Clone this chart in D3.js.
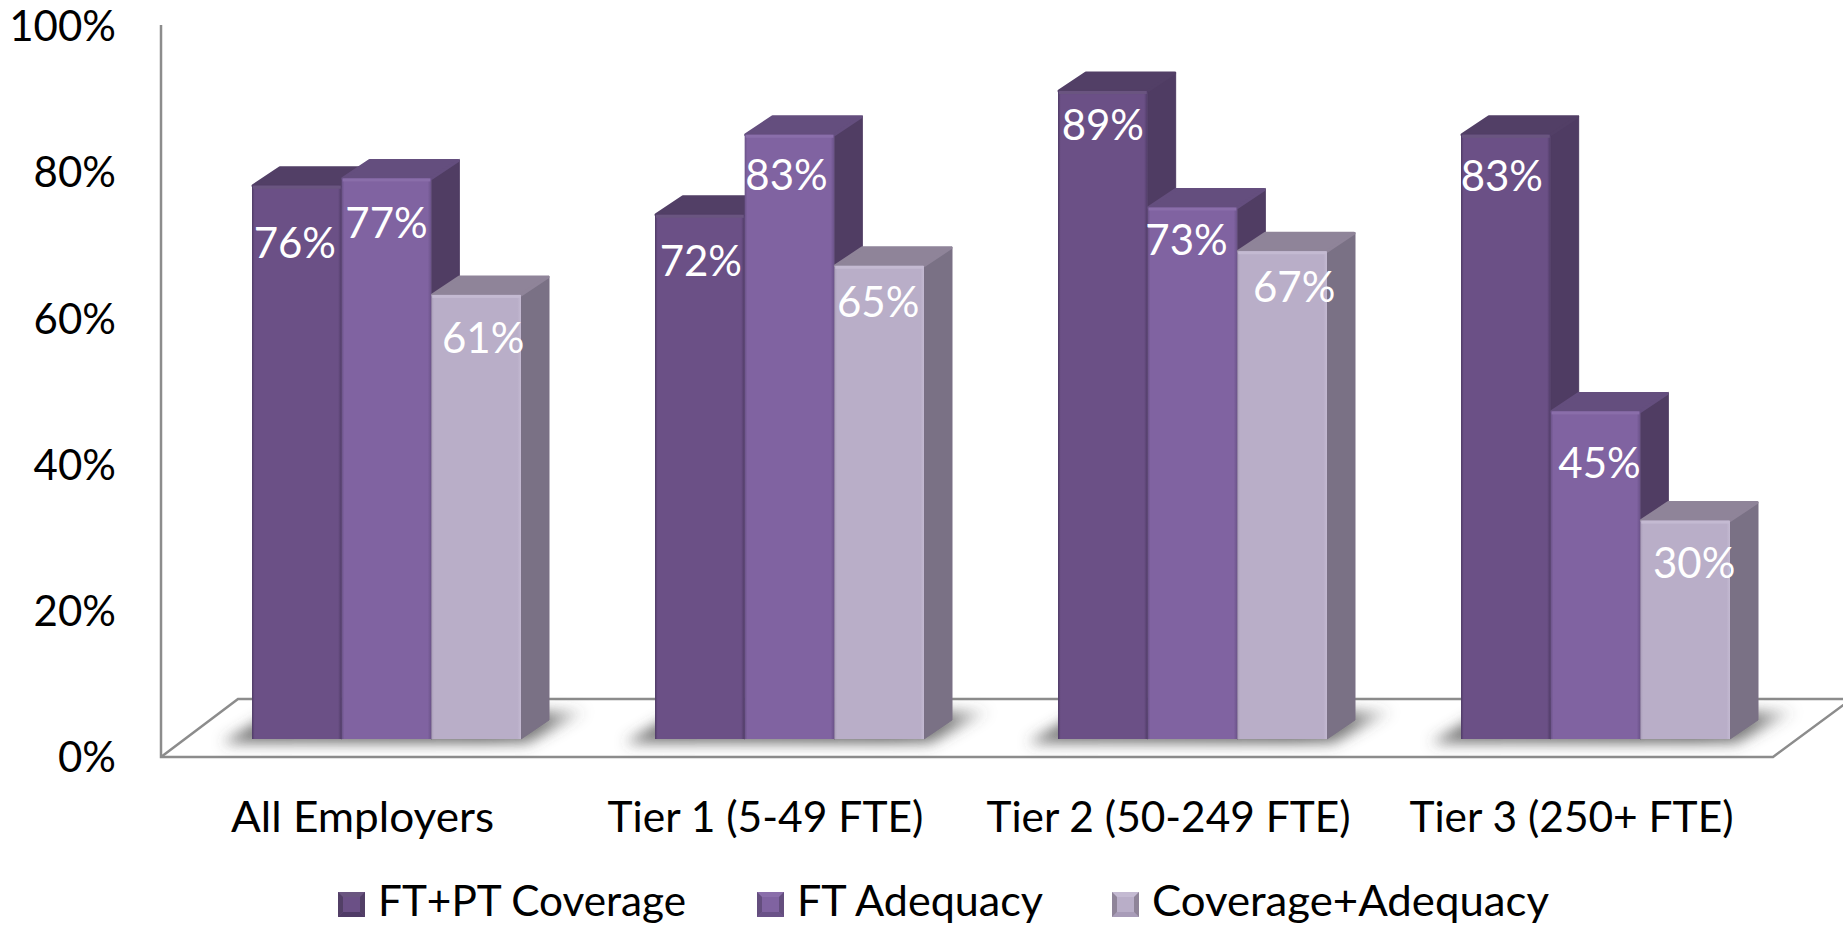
<!DOCTYPE html>
<html>
<head>
<meta charset="utf-8">
<script src="https://cdn.jsdelivr.net/npm/d3@7"></script>
<style>
  html, body { margin: 0; padding: 0; background: #fff; }
  svg { display: block; }
  text { font-family: Lato, "Open Sans", sans-serif; }
</style>
</head>
<body>
<svg id="chart" width="1843" height="926"></svg>
<script>
// Values
const categories = ["All Employers", "Tier 1 (5-49 FTE)", "Tier 2 (50-249 FTE)", "Tier 3 (250+ FTE)"];
const seriesNames = ["FT+PT Coverage", "FT Adequacy", "Coverage+Adequacy"];
const coverage = [76, 72, 89, 83];
const adequacy = [77, 83, 73, 45];
const combined = [61, 65, 67, 30];
const tickValues = [0, 20, 40, 60, 80, 100];

// Series palette: front, top and side faces of each extruded bar
const palette = [
  { front: "#6b5086", edge: "#4f3b66", top: "#523f66", side: "#4f3c63", shine: "#6a5580" },
  { front: "#8063a1", edge: "#6a5288", top: "#644e7e", side: "#503d63", shine: "#8a6eaa" },
  { front: "#b9aec8", edge: "#a89cb8", top: "#8f8499", side: "#7a7185", shine: "#c4bad2" }
];

// Hand placement of the value labels relative to each bar: [dx, dy from the top]
const labelPlacement = [
  [[-2, 57], [0, 44], [7, 43]],
  [[1, 46], [-3, 40], [-1, 36]],
  [[0, 34], [-6, 32], [12, 36]],
  [[-4, 41], [4, 51], [9, 42]]
];

// Set widths for the longer strings, in pixels
const categoryTextWidth = [263, 316, 364, 324];
const legendTextWidth = [308, 246, 397];

const seriesValues = [coverage, adequacy, combined];
const depthX = 28, depthY = 19, floorLift = 18, barShift = 24;
const floorLeft = 161, floorRight = 1773, floorY = 757;
const backX = 77, backY = 58;

const svg = d3.select("#chart");
const defs = svg.append("defs");

// The axis sits on the floor's front edge; bars stand further back and read slightly shorter
const y = d3.scaleLinear().domain([0, 100]).range([floorY, 26]);
const barY = d3.scaleLinear().domain([0, 100]).range([floorY - floorLift, floorY - floorLift - 728]);
const x0 = d3.scaleBand().domain(categories).range([floorLeft, floorRight]);
const x1 = d3.scaleBand().domain(seriesNames).range([0, 269]);

const blur = defs.append("filter").attr("id", "soft").attr("x", "-20%").attr("y", "-60%")
  .attr("width", "140%").attr("height", "220%");
blur.append("feGaussianBlur").attr("stdDeviation", 7);

// The shadow fades out toward its far right end
const shade = defs.append("linearGradient").attr("id", "shade");
shade.selectAll("stop")
  .data([[0, 0.75], [0.72, 0.85], [0.88, 0.7], [1, 0.1]])
  .join("stop")
  .attr("offset", d => d[0])
  .attr("stop-color", "#4a4a4a")
  .attr("stop-opacity", d => d[1]);

palette.forEach((c, i) => {
  const g = defs.append("linearGradient").attr("id", "front" + i);
  g.selectAll("stop")
    .data([[0, c.edge], [0.03, c.front], [0.96, c.front], [1, i === 2 ? c.shine : c.edge]])
    .join("stop")
    .attr("offset", d => d[0])
    .attr("stop-color", d => d[1]);
});

// Floor of the 3D plot and the vertical wall line
const wallColor = "#8c8c8c";
const line = d3.line();
svg.append("path")
  .attr("d", line([[floorLeft, 25], [floorLeft, floorY], [floorRight, floorY], [floorRight + backX, floorY - backY + 1]]))
  .attr("fill", "none").attr("stroke", wallColor).attr("stroke-width", 2.5);
svg.append("path")
  .attr("d", line([[floorLeft, floorY], [floorLeft + backX, floorY - backY], [1843, floorY - backY]]))
  .attr("fill", "none").attr("stroke", wallColor).attr("stroke-width", 2.5);

// Axis labels
svg.append("g").selectAll("text").data(tickValues).join("text")
  .attr("x", 116).attr("y", d => y(d)).attr("dy", "0.36em")
  .attr("text-anchor", "end").attr("font-size", 42).attr("fill", "#000")
  .text(d => d + "%");

svg.append("g").selectAll("text").data(categories).join("text")
  .attr("x", d => x0(d) + x0.bandwidth() / 2).attr("y", 832)
  .attr("text-anchor", "middle").attr("font-size", 43).attr("fill", "#000")
  .attr("textLength", (d, i) => categoryTextWidth[i])
  .attr("lengthAdjust", "spacingAndGlyphs")
  .text(d => d);

const groups = svg.append("g").selectAll("g").data(categories).join("g")
  .attr("transform", d => `translate(${x0(d) + x0.bandwidth() / 2 - x1.range()[1] / 2 + barShift},0)`);

// Blurred floor shadow under each cluster
groups.append("path")
  .attr("d", () => {
    const w = x1.range()[1], b = barY(0) + 4, t = b - 32;
    return line([[-30, b], [w + 6, b], [w + 66, t], [24, t]]) + "Z";
  })
  .attr("fill", "url(#shade)").attr("filter", "url(#soft)");

// Extruded bars, drawn left to right so nearer faces overlap
groups.each(function (cat, ci) {
  const g = d3.select(this);
  seriesNames.forEach((name, si) => {
    const v = seriesValues[si][ci];
    const c = palette[si];
    const l = x1(name), r = l + x1.bandwidth();
    const t = barY(v), b = barY(0);
    const bar = g.append("g");
    bar.append("path").attr("fill", c.side)
      .attr("stroke", c.side).attr("stroke-width", 1).attr("stroke-linejoin", "round")
      .attr("d", line([[r, t], [r + depthX, t - depthY], [r + depthX, b - depthY], [r, b]]) + "Z");
    bar.append("path").attr("fill", c.top)
      .attr("stroke", c.top).attr("stroke-width", 3).attr("stroke-linejoin", "round")
      .attr("d", line([[l + 1, t], [l + depthX, t - depthY + 1], [r + depthX - 1, t - depthY + 1], [r, t]]) + "Z");
    bar.append("rect").attr("x", l).attr("y", t).attr("width", x1.bandwidth()).attr("height", b - t)
      .attr("fill", `url(#front${si})`);
    bar.append("rect").attr("x", l + 1).attr("y", t).attr("width", x1.bandwidth() - 2).attr("height", 3)
      .attr("fill", c.shine);
    const [dx, dy] = labelPlacement[ci][si];
    bar.append("text")
      .attr("x", (l + r) / 2 + dx).attr("y", t + dy).attr("dy", "0.36em")
      .attr("text-anchor", "middle").attr("font-size", 42).attr("fill", "#fff")
      .text(v + "%");
  });
});

// Legend with bevelled swatches
const legendX = [338, 757, 1112];
const legend = svg.append("g").selectAll("g").data(seriesNames).join("g")
  .attr("transform", (d, i) => `translate(${legendX[i]},892)`);
legend.each(function (name, i) {
  const g = d3.select(this), c = palette[i], s = 27, h = 25, e = 5;
  g.append("rect").attr("width", s).attr("height", h).attr("fill", c.front);
  g.append("path").attr("fill", c.shine).attr("d", line([[0, 0], [s, 0], [s - e, e], [e, e]]) + "Z");
  g.append("path").attr("fill", c.edge).attr("d", line([[0, h], [s, h], [s - e, h - e], [e, h - e]]) + "Z");
  g.append("path").attr("fill", c.top).attr("d", line([[0, 0], [e, e], [e, h - e], [0, h]]) + "Z");
  g.append("path").attr("fill", c.top).attr("d", line([[s, 0], [s - e, e], [s - e, h - e], [s, h]]) + "Z");
  g.append("text").attr("x", s + 13).attr("y", 24)
    .attr("font-size", 43).attr("fill", "#000")
    .attr("textLength", legendTextWidth[i])
    .attr("lengthAdjust", "spacingAndGlyphs")
    .text(name);
});
</script>
</body>
</html>
